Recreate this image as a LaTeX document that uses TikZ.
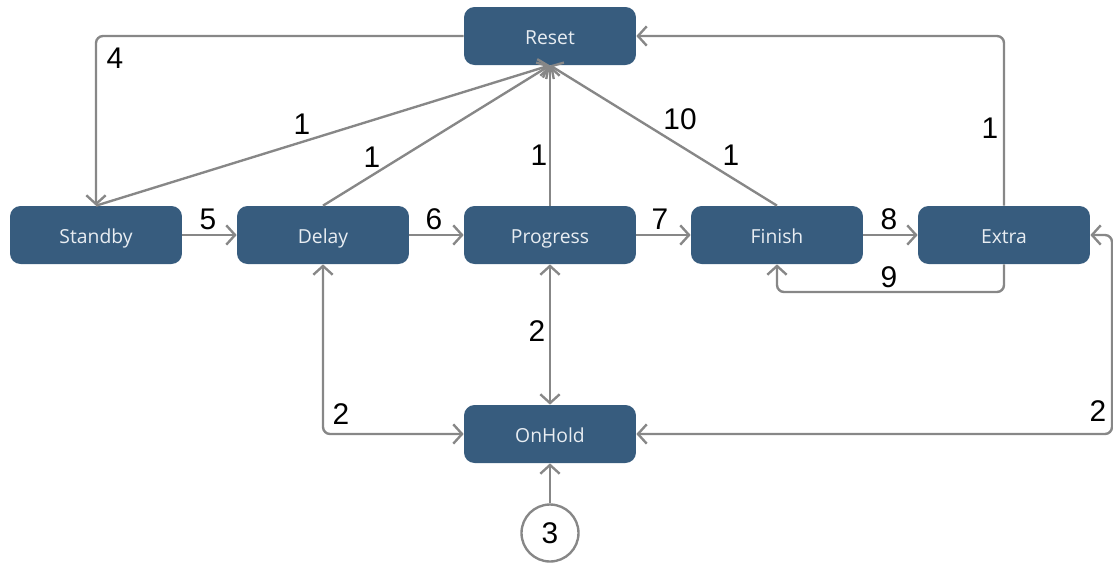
\documentclass[tikz,border=0pt]{standalone}
\usepackage{fontspec}
\setmainfont{Liberation Sans}
\newfontfamily\boxfont{Open Sans}
\usetikzlibrary{arrows.meta,positioning}
\definecolor{snavy}{HTML}{375C7E}
\definecolor{stext}{HTML}{E8EDF2}
\definecolor{sgrey}{HTML}{878787}
\tikzset{
  state/.style={fill=snavy,text=stext,rounded corners=6pt,minimum width=3.44cm,minimum height=1.16cm,font=\boxfont\fontsize{11}{13}\selectfont,inner sep=0pt,text height=1.05em,text depth=0.1em},
  arr/.style={-{Straight Barb[length=5pt,width=11pt]},line width=1.35pt,draw=sgrey,rounded corners=4pt},
  darr/.style={arr,{Straight Barb[length=5pt,width=11pt]}-{Straight Barb[length=5pt,width=11pt]}},
  lbl/.style={font=\fontsize{17}{20}\selectfont,inner sep=0pt},
  start/.style={circle,draw=sgrey,line width=1.35pt,fill=white,minimum size=1.14cm,inner sep=0pt,font=\fontsize{17}{20}\selectfont},
}
\begin{document}
\begin{tikzpicture}[x=0.02cm,y=-0.02cm]
\useasboundingbox (0,0) rectangle (1113,562);
% states
\node[state] (reset) at (550,36) {Reset};
\node[state] (standby) at (96,235) {Standby};
\node[state] (delay) at (323,235) {Delay};
\node[state] (progress) at (550,235) {Progress};
\node[state] (finish) at (777,235) {Finish};
\node[state] (extra) at (1004,235) {Extra};
\node[state] (onhold) at (550,434) {OnHold};
\node[start] (ini) at (550,533) {3};
% helper points for the loops
\coordinate (loop9) at (890,292);
\coordinate (rim) at (1112,235);
% transitions
\draw[arr] (reset.west) -| (standby.north);
\draw[arr] (standby.north) -- (reset.south);
\draw[arr] (delay.north) -- (reset.south);
\draw[arr] (progress.north) -- (reset.south);
\draw[arr] (finish.north) -- (reset.south);
\draw[arr] (extra.north) |- (reset.east);
\draw[arr] (standby.east) -- (delay.west);
\draw[arr] (delay.east) -- (progress.west);
\draw[arr] (progress.east) -- (finish.west);
\draw[arr] (finish.east) -- (extra.west);
\draw[arr] (extra.south) |- (loop9) -| (finish.south);
\draw[darr] (delay.south) |- (onhold.west);
\draw[darr] (progress.south) -- (onhold.north);
\draw[darr] (extra.east) -- (rim) |- (onhold.east);
\draw[arr] (ini) -- (onhold.south);
% labels
\node[lbl] (l4) at (115,58) {4};
\node[lbl] (l1a) at (302,124) {1};
\node[lbl] (l1b) at (372,157) {1};
\node[lbl] (l1c) at (539,155) {1};
\node[lbl] (l10) at (680,119) {10};
\node[lbl] (l1d) at (731,155) {1};
\node[lbl] (l1e) at (990,128) {1};
\node[lbl] (l5) at (208,219) {5};
\node[lbl] (l6) at (434,219) {6};
\node[lbl] (l7) at (660,219) {7};
\node[lbl] (l8) at (889,219) {8};
\node[lbl] (l9) at (889,277) {9};
\node[lbl] (l2a) at (537,331) {2};
\node[lbl] (l2b) at (341,414) {2};
\node[lbl] (l2c) at (1098,411) {2};
\end{tikzpicture}
\end{document}
